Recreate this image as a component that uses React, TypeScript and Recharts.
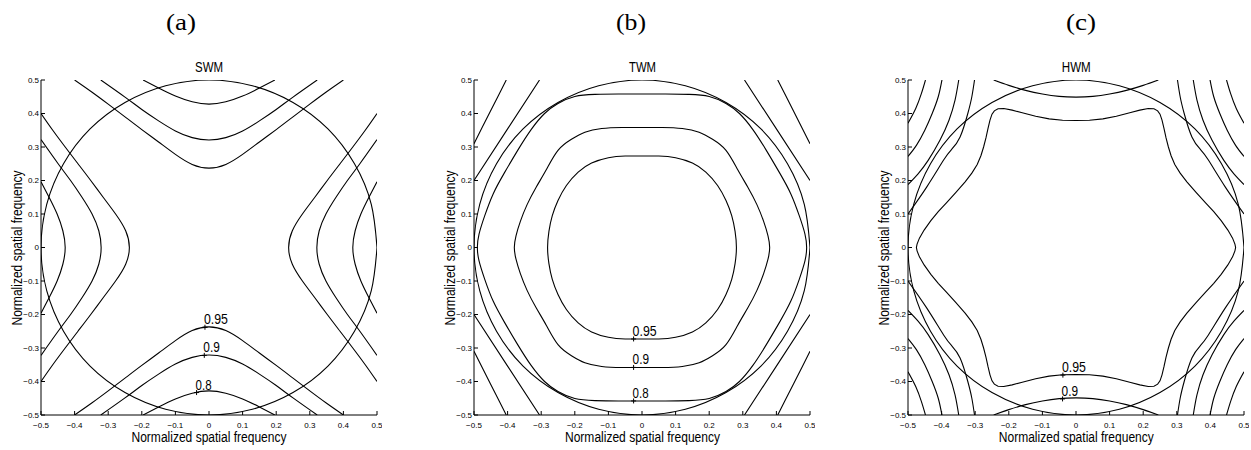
import React from 'react';
import { LineChart, Line, XAxis, YAxis, ReferenceDot } from 'recharts';

type P = [number, number];

// ---------- axis ticks ----------
const TICKS = [-0.5, -0.4, -0.3, -0.2, -0.1, 0, 0.1, 0.2, 0.3, 0.4, 0.5];
const TICK_LABELS = ['\u22120.5', '\u22120.4', '\u22120.3', '\u22120.2', '\u22120.1', '0', '0.1', '0.2', '0.3', '0.4', '0.5'];

// ---------- shared circle (radius 0.5) ----------
const CIRCLE: P[] = [
  [0.5, 0], [0.483, 0.129], [0.433, 0.25], [0.354, 0.354], [0.25, 0.433], [0.129, 0.483],
  [0, 0.5], [-0.129, 0.483], [-0.25, 0.433], [-0.354, 0.354], [-0.433, 0.25], [-0.483, 0.129],
  [-0.5, 0], [-0.483, -0.129], [-0.433, -0.25], [-0.354, -0.354], [-0.25, -0.433], [-0.129, -0.483],
  [0, -0.5], [0.129, -0.483], [0.25, -0.433], [0.354, -0.354], [0.433, -0.25], [0.483, -0.129], [0.5, 0],
];

// ---------- (a) SWM : half arcs (x >= 0) of the top contours ----------
const SWM_080: P[] = [[0, 0.428], [0.05, 0.435], [0.1, 0.452], [0.15, 0.476], [0.196, 0.5]];
const SWM_090: P[] = [[0, 0.321], [0.05, 0.328], [0.1, 0.348], [0.15, 0.378], [0.2, 0.412], [0.25, 0.449], [0.322, 0.5]];
const SWM_095: P[] = [[0, 0.237], [0.05, 0.248], [0.1, 0.278], [0.15, 0.315], [0.2, 0.352], [0.25, 0.39], [0.3, 0.428], [0.35, 0.465], [0.4, 0.5]];
const SWM_LABELS = [
  { x: -0.012, y: -0.238, t: '0.95', w: 24 },
  { x: -0.014, y: -0.322, t: '0.9', w: 16.5 },
  { x: -0.037, y: -0.433, t: '0.8', w: 16 },
];

// ---------- (b) TWM : first-quadrant profiles of the closed contours ----------
const TWM_095: P[] = [[0, 0.273], [0.05, 0.273], [0.1, 0.268], [0.15, 0.252], [0.19, 0.225], [0.225, 0.185], [0.25, 0.14], [0.267, 0.095], [0.277, 0.048], [0.281, 0]];
const TWM_090: P[] = [[0, 0.358], [0.06, 0.358], [0.12, 0.355], [0.17, 0.344], [0.21, 0.323], [0.25, 0.29], [0.285, 0.232], [0.315, 0.18], [0.342, 0.128], [0.362, 0.078], [0.375, 0.035], [0.38, 0]];
const TWM_080: P[] = [[0, 0.458], [0.07, 0.458], [0.14, 0.457], [0.2, 0.451], [0.25, 0.43], [0.29, 0.4], [0.33, 0.352], [0.37, 0.29], [0.41, 0.222], [0.443, 0.16], [0.468, 0.095], [0.485, 0.04], [0.49, 0]];
// upper-left corner lines
const TWM_CORNER_IN: P[] = [[-0.305, 0.5], [-0.4, 0.354], [-0.5, 0.2]];
const TWM_CORNER_OUT: P[] = [[-0.404, 0.5], [-0.452, 0.405], [-0.5, 0.31]];
const TWM_LABELS = [
  { x: -0.025, y: -0.273, t: '0.95', w: 24 },
  { x: -0.025, y: -0.358, t: '0.9', w: 16.5 },
  { x: -0.025, y: -0.458, t: '0.8', w: 16 },
];

// ---------- (c) HWM ----------
const HWM_095: P[] = [[0, 0.379], [0.04, 0.38], [0.08, 0.384], [0.12, 0.392], [0.16, 0.402], [0.19, 0.41], [0.215, 0.415], [0.232, 0.414], [0.243, 0.408], [0.25, 0.398], [0.256, 0.38], [0.262, 0.355], [0.268, 0.327], [0.275, 0.3], [0.283, 0.274], [0.294, 0.248], [0.31, 0.222], [0.33, 0.196], [0.358, 0.164], [0.385, 0.134], [0.41, 0.107], [0.432, 0.08], [0.452, 0.052], [0.466, 0.028], [0.473, 0.01], [0.475, 0]];
const HWM_090: P[] = [[0, 0.449], [0.05, 0.451], [0.1, 0.458], [0.15, 0.469], [0.2, 0.484], [0.245, 0.5]];
const HWM_C1: P[] = [[-0.448, 0.5], [-0.46, 0.46], [-0.477, 0.415], [-0.5, 0.371]];
const HWM_C2: P[] = [[-0.399, 0.5], [-0.41, 0.45], [-0.428, 0.4], [-0.45, 0.35], [-0.475, 0.305], [-0.5, 0.272]];
const HWM_C3: P[] = [[-0.349, 0.5], [-0.36, 0.44], [-0.378, 0.38], [-0.405, 0.32], [-0.44, 0.26], [-0.47, 0.22], [-0.5, 0.188]];
const HWM_C4: P[] = [[-0.302, 0.5], [-0.31, 0.45], [-0.322, 0.4], [-0.345, 0.33], [-0.37, 0.293], [-0.394, 0.261], [-0.444, 0.181], [-0.5, 0.1]];
const HWM_LABELS = [
  { x: -0.039, y: -0.381, t: '0.95', w: 24 },
  { x: -0.04, y: -0.452, t: '0.9', w: 16.5 },
];

// ---------- builders (symmetry of the contour maps) ----------
const fullArc = (h: P[]): P[] => [...h.slice(1).reverse().map(([x, y]) => [-x, y] as P), ...h];
const fourWays = (a: P[]): P[][] => [
  a,
  a.map(([x, y]) => [x, -y] as P),
  a.map(([x, y]) => [y, x] as P),
  a.map(([x, y]) => [-y, x] as P),
];
const topBottom = (a: P[]): P[][] => [a, a.map(([x, y]) => [x, -y] as P)];
const loop = (q: P[]): P[] => [
  ...q,
  ...q.slice(0, -1).reverse().map(([x, y]) => [x, -y] as P),
  ...q.slice(1).map(([x, y]) => [-x, -y] as P),
  ...q.slice(0, -1).reverse().map(([x, y]) => [-x, y] as P),
];
const corners = (c: P[]): P[][] => [
  c,
  c.map(([x, y]) => [-x, y] as P),
  c.map(([x, y]) => [x, -y] as P),
  c.map(([x, y]) => [-x, -y] as P),
];
const toPts = (arr: P[]) => arr.map(([x, y]) => ({ x, y }));

type Curve = { pts: P[]; kind: 'natural' | 'linear' };
const nat = (list: P[][]): Curve[] => list.map((pts) => ({ pts, kind: 'natural' as const }));

const SWM_CURVES: Curve[] = nat([CIRCLE, ...fourWays(fullArc(SWM_080)), ...fourWays(fullArc(SWM_090)), ...fourWays(fullArc(SWM_095))]);
const TWM_CURVES: Curve[] = nat([CIRCLE, loop(TWM_095), loop(TWM_090), loop(TWM_080), ...corners(TWM_CORNER_IN), ...corners(TWM_CORNER_OUT)]);
const HWM_CURVES: Curve[] = [
  { pts: loop(HWM_095), kind: 'linear' },
  ...nat([CIRCLE, ...topBottom(fullArc(HWM_090)), ...corners(HWM_C1), ...corners(HWM_C2), ...corners(HWM_C3), ...corners(HWM_C4)]),
];

const SANS = "'Liberation Sans', Arial, Helvetica, sans-serif";
const fmt = (v: number) => TICK_LABELS[TICKS.findIndex((t) => Math.abs(t - v) < 1e-9)] ?? String(v);
const tickStyle = { fontSize: 8, fill: '#000', fontFamily: SANS };

type Lab = { x: number; y: number; t: string; w: number };

function Panel({ left, curves, labels }: { left: number; curves: Curve[]; labels: Lab[] }) {
  return (
    <div style={{ position: 'absolute', left, top: 0 }}>
      <LineChart width={381} height={450} margin={{ top: 80, right: 5, bottom: 0, left: 0 }}>
        <XAxis xAxisId="b" dataKey="x" type="number" domain={[-0.5, 0.5]} allowDataOverflow ticks={TICKS} interval={0}
          tickFormatter={fmt} tickSize={-4} tickMargin={11} height={35} stroke="#000" tick={tickStyle} />
        <XAxis xAxisId="t" orientation="top" dataKey="x" type="number" domain={[-0.5, 0.5]} allowDataOverflow ticks={TICKS}
          interval={0} tickFormatter={() => ''} tickSize={-4} height={0} stroke="#000" />
        <YAxis yAxisId="l" dataKey="y" type="number" domain={[-0.5, 0.5]} allowDataOverflow ticks={TICKS} interval={0}
          tickFormatter={fmt} tickSize={-4} tickMargin={6} width={40} stroke="#000" tick={tickStyle} />
        <YAxis yAxisId="r" orientation="right" dataKey="y" type="number" domain={[-0.5, 0.5]} allowDataOverflow ticks={TICKS}
          interval={0} tickFormatter={() => ''} tickSize={-4} width={0} stroke="#000" />
        <Line xAxisId="t" yAxisId="r" data={toPts(CIRCLE)} dataKey="y" stroke="none" dot={false} activeDot={false}
          isAnimationActive={false} />
        {curves.map((c, i) => (
          <Line key={i} xAxisId="b" yAxisId="l" data={toPts(c.pts)} dataKey="y" type={c.kind} stroke="#000"
            strokeWidth={1.1} dot={false} activeDot={false} isAnimationActive={false} />
        ))}
        {labels.map((l, i) => (
          <ReferenceDot key={'l' + i} xAxisId="b" yAxisId="l" x={l.x} y={l.y} r={3} ifOverflow="visible"
            shape={(p: any) => (
              <g>
                <path d={`M${p.cx - 2.5},${p.cy}H${p.cx + 2.5}M${p.cx},${p.cy - 2.5}V${p.cy + 2.5}`} stroke="#000" strokeWidth={1} />
                <text x={p.cx - 1} y={p.cy - 3} fontSize={14} fontFamily={SANS} fill="#000" textLength={l.w}
                  lengthAdjust="spacingAndGlyphs">{l.t}</text>
              </g>
            )} />
        ))}
      </LineChart>
    </div>
  );
}

const CAPTIONS = [
  { t: '(a)', x: 181 }, { t: '(b)', x: 631 }, { t: '(c)', x: 1081 },
];
const TITLES = [
  { t: 'SWM', x: 209, w: 28 }, { t: 'TWM', x: 642.5, w: 27 }, { t: 'HWM', x: 1076.3, w: 29 },
];
const XLABEL_X = [209, 642.5, 1076.3];
const YLABEL_X = [21.5, 454.5, 888.5];
const AXIS_LABEL = 'Normalized spatial frequency';

export default function App() {
  return (
    <div style={{ position: 'absolute', left: 0, top: 0, width: 1251, height: 450, overflow: 'hidden', background: '#fff' }}>
      <Panel left={0.7} curves={SWM_CURVES} labels={SWM_LABELS} />
      <Panel left={434.3} curves={TWM_CURVES} labels={TWM_LABELS} />
      <Panel left={868.3} curves={HWM_CURVES} labels={HWM_LABELS} />
      <svg width={1251} height={450} style={{ position: 'absolute', left: 0, top: 0, pointerEvents: 'none' }}>
        {CAPTIONS.map((c) => (
          <text key={c.t} x={c.x} y={30} textAnchor="middle" fontSize={24} fontFamily="'Liberation Serif', 'DejaVu Serif', serif"
            textLength={30} lengthAdjust="spacingAndGlyphs" fill="#000">{c.t}</text>
        ))}
        {TITLES.map((c) => (
          <text key={c.t} x={c.x} y={71.7} textAnchor="middle" fontSize={14} fontFamily={SANS}
            textLength={c.w} lengthAdjust="spacingAndGlyphs" fill="#000">{c.t}</text>
        ))}
        {XLABEL_X.map((x, i) => (
          <text key={'x' + i} x={x} y={441.7} textAnchor="middle" fontSize={14} fontFamily={SANS}
            textLength={155} lengthAdjust="spacingAndGlyphs" fill="#000">{AXIS_LABEL}</text>
        ))}
        {YLABEL_X.map((x, i) => (
          <text key={'y' + i} x={x} y={248} textAnchor="middle" fontSize={14} fontFamily={SANS}
            transform={`rotate(-90 ${x} 248)`} textLength={155} lengthAdjust="spacingAndGlyphs" fill="#000">{AXIS_LABEL}</text>
        ))}
      </svg>
    </div>
  );
}
